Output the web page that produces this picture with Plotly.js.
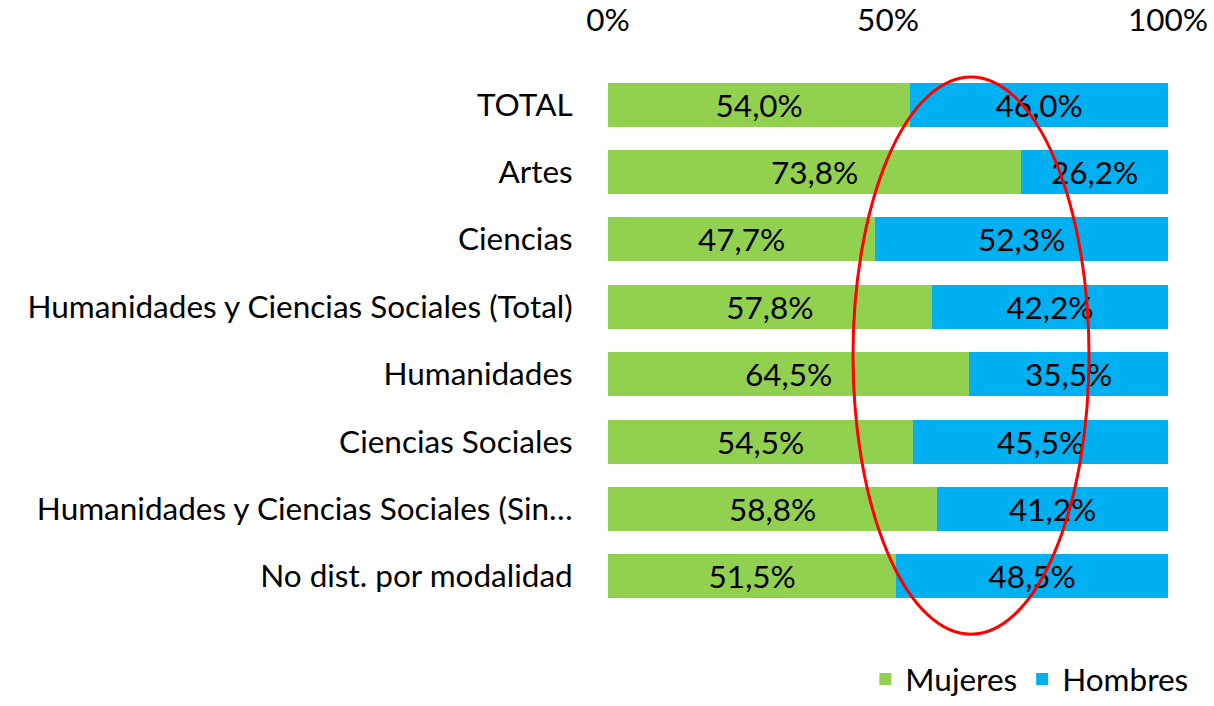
<!DOCTYPE html>
<html><head><meta charset="utf-8">
<script src="https://cdn.plot.ly/plotly-3.0.1.min.js"></script>
<style>html,body{margin:0;padding:0;background:#fff;}#chart{width:1214px;height:706px;}</style>
</head><body><div id="chart"></div>
<script>
const categories = ["TOTAL","Artes","Ciencias","Humanidades y Ciencias Sociales (Total)","Humanidades","Ciencias Sociales","Humanidades y Ciencias Sociales (Sin…","No dist. por modalidad"];
const mujeres = [54.0,73.8,47.7,57.8,64.5,54.5,58.8,51.5];
const hombres = [46.0,26.2,52.3,42.2,35.5,45.5,41.2,48.5];
const tickVals = [0,50,100];
const tickText = ["0%","50%","100%"];

const FONT = "Lato, 'Open Sans', sans-serif";
const FS = 31.5;
const common = {type:'bar', orientation:'h', y:categories, texttemplate:'%{x:.1f}%', textposition:'inside',
  insidetextanchor:'middle', textfont:{family:FONT,size:FS,color:'#000'}, hoverinfo:'x+y', cliponaxis:false};
const data = [
  Object.assign({}, common, {name:'Mujeres', x:mujeres, marker:{color:'#92D050'}}),
  Object.assign({}, common, {name:'Hombres', x:hombres, marker:{color:'#00B0F0'}})
];
const layout = {
  width:1214, height:706, barmode:'stack', bargap:0.346, separators:',.',
  font:{family:FONT,size:FS,color:'#000'},
  paper_bgcolor:'#fff', plot_bgcolor:'#fff',
  margin:{l:608,r:46,t:71,b:96},
  xaxis:{side:'top', range:[0,100], tickvals:tickVals, ticktext:tickText, showgrid:false, zeroline:false,
    showline:false, ticks:'outside', ticklen:26, tickcolor:'rgba(0,0,0,0)', tickfont:{size:FS}},
  yaxis:{autorange:'reversed', showgrid:false, showline:false, ticks:'outside', ticklen:28,
    tickcolor:'rgba(0,0,0,0)', tickfont:{size:FS}},
  legend:{orientation:'h', xref:'container', yref:'container', x:0.983, xanchor:'right', y:-0.012, yanchor:'bottom',
    font:{size:FS}, traceorder:'normal', itemwidth:30},
  shapes:[{type:'circle', xref:'x', yref:'paper', x0:43.75, x1:85.9, y0:-0.045, y1:0.989,
    line:{color:'#FF0000', width:3}}],
  showlegend:true
};
Plotly.newPlot('chart', data, layout, {displayModeBar:false, staticPlot:true});
</script></body></html>
